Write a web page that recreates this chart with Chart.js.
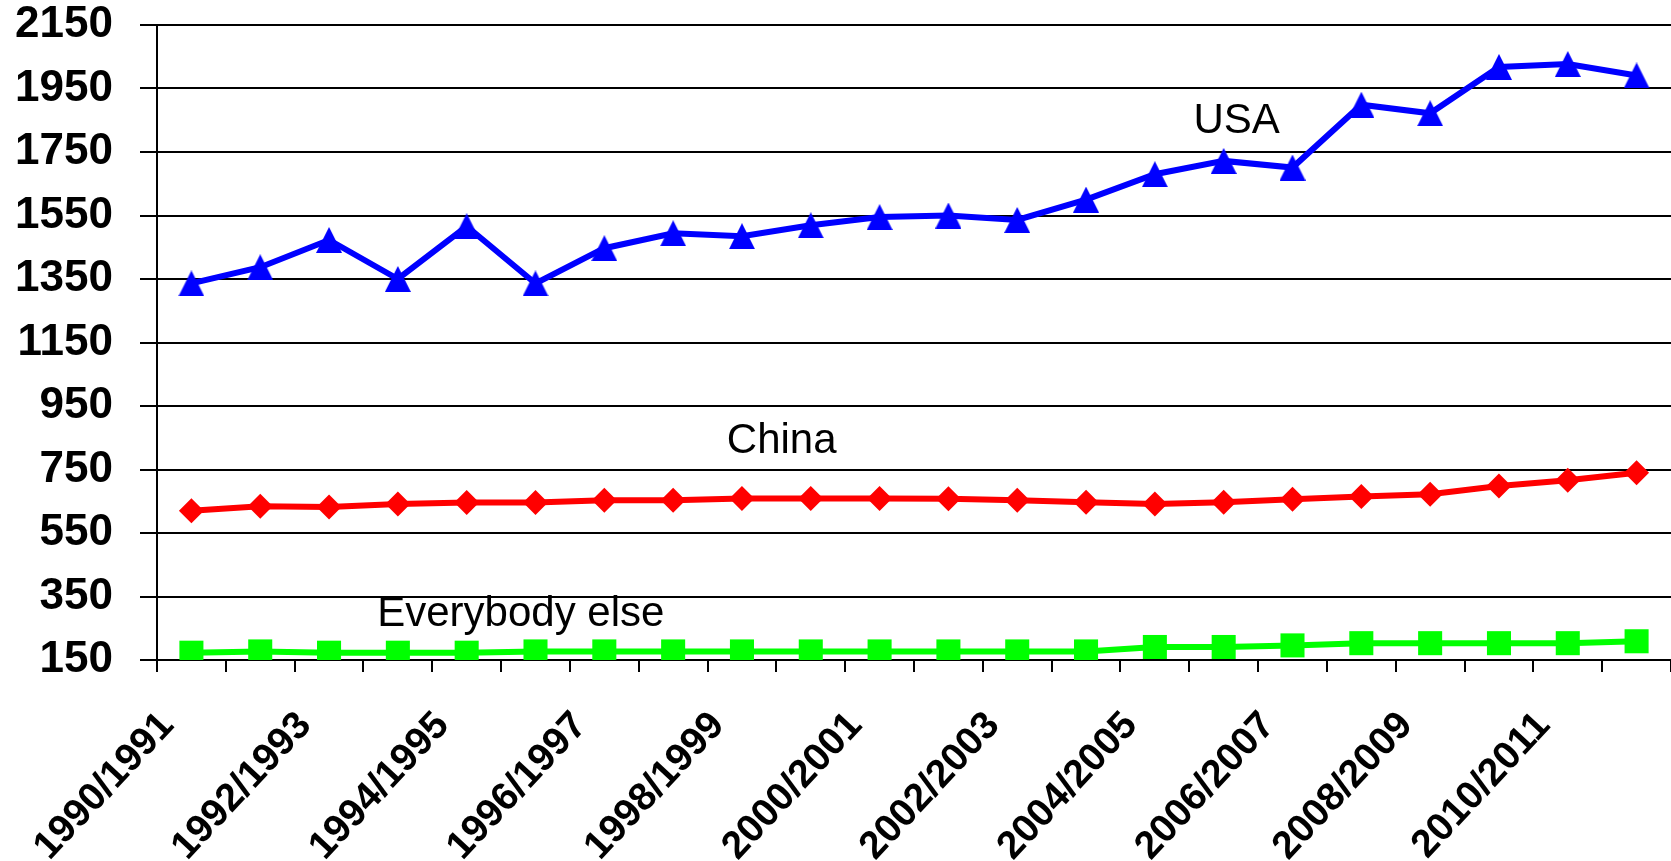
<!DOCTYPE html>
<html>
  <head>
    <title>USA, China, Everybody else</title>
    <style>
      body { margin: 0; background: #fff; }
      #wrap { width: 1671px; height: 861px; position: relative; }
    </style>
  </head>
  <body>
    <script src="https://cdn.jsdelivr.net/npm/chart.js"></script>

    <div id="wrap"><canvas id="lineChart"></canvas></div>

    <script>
      // Data
      const years = ['1990/1991', '1991/1992', '1992/1993', '1993/1994', '1994/1995', '1995/1996',
        '1996/1997', '1997/1998', '1998/1999', '1999/2000', '2000/2001', '2001/2002', '2002/2003',
        '2003/2004', '2004/2005', '2005/2006', '2006/2007', '2007/2008', '2008/2009', '2009/2010',
        '2010/2011', '2011/2012'];
      const usa = [1336, 1387, 1473, 1350, 1516, 1336, 1447, 1494, 1485, 1519, 1545, 1550,
        1536, 1600, 1680, 1722, 1701, 1899, 1872, 2018, 2027, 1991];
      const china = [620, 634, 632, 641, 646, 646, 653, 653, 659, 659, 659, 658,
        653, 647, 641, 647, 656, 665, 672, 698, 716, 740];
      const others = [173, 177, 173, 173, 173, 177, 177, 177, 177, 177, 177, 177,
        177, 177, 191, 191, 196, 203, 203, 203, 203, 209];
      const yTicks = [150, 350, 550, 750, 950, 1150, 1350, 1550, 1750, 1950, 2150];

      // series names written inside the plot (category index, value)
      const seriesNames = ['USA', 'China', 'Everybody else'];
      const nameX = [14.56, 7.78, 2.70];
      const nameY = [1810, 801, 257];

      const FONT = "'Liberation Sans', Arial, sans-serif";

      // Excel-like triangle marker (box centred on the point)
      function triangle(color) {
        const c = document.createElement('canvas');
        c.width = 26; c.height = 26;
        const g = c.getContext('2d');
        g.fillStyle = color;
        g.beginPath();
        g.moveTo(13, 0);
        g.lineTo(26, 26);
        g.lineTo(0, 26);
        g.closePath();
        g.fill();
        return c;
      }

      // draws the series names as plain text
      const namesPlugin = {
        id: 'names',
        afterDatasetsDraw(chart) {
          const ctx = chart.ctx;
          const xs = chart.scales.x, ys = chart.scales.y;
          ctx.save();
          ctx.fillStyle = '#000';
          ctx.font = '42px ' + FONT;
          ctx.textAlign = 'left';
          ctx.textBaseline = 'alphabetic';
          seriesNames.forEach((name, i) => {
            ctx.fillText(name, xs.getPixelForValue(nameX[i]), ys.getPixelForValue(nameY[i]));
          });
          ctx.restore();
        }
      };

      const ctx = document.getElementById('lineChart').getContext('2d');
      const chart = new Chart(ctx, {
        type: 'line',
        data: {
          labels: years,
          datasets: [
            {
              label: 'USA', data: usa,
              borderColor: '#0000ff', backgroundColor: '#0000ff', borderWidth: 6,
              pointStyle: triangle('#0000ff'), pointRadius: 13
            },
            {
              label: 'China', data: china,
              borderColor: '#ff0000', backgroundColor: '#ff0000', borderWidth: 6,
              pointStyle: 'rectRot', pointRadius: 12.5, pointBorderWidth: 0
            },
            {
              label: 'Everybody else', data: others,
              borderColor: '#00ff00', backgroundColor: '#00ff00', borderWidth: 6,
              pointStyle: 'rect', pointRadius: 17, pointBorderWidth: 0
            }
          ]
        },
        options: {
          responsive: true,
          maintainAspectRatio: false,
          animation: false,
          events: [],
          layout: { padding: 0, autoPadding: false },
          elements: { line: { tension: 0 } },
          plugins: { legend: { display: false }, tooltip: { enabled: false } },
          scales: {
            x: {
              offset: true,
              grid: { offset: true, drawOnChartArea: false, drawTicks: true, tickLength: 12, color: '#000', lineWidth: 2 },
              border: { color: '#000', width: 2 },
              ticks: {
                autoSkip: false, minRotation: 47, maxRotation: 47,
                padding: 31, labelOffset: -24, color: '#000',
                font: { family: FONT, size: 39, weight: 'bold' },
                callback: (v, i) => (i % 2 === 0 ? years[i] : '')
              },
              afterFit(scale) {
                scale.height = 201;
                scale.paddingLeft = 0;
                scale.paddingRight = 0;
              }
            },
            y: {
              min: yTicks[0],
              max: yTicks[yTicks.length - 1],
              afterBuildTicks(scale) {
                scale.ticks = yTicks.map(v => ({ value: v }));
              },
              grid: { color: '#000', lineWidth: 2, tickLength: 17 },
              border: { color: '#000', width: 2 },
              ticks: {
                padding: 27, color: '#000',
                font: { family: FONT, size: 44, weight: 'bold' },
                callback: v => String(v)
              },
              afterFit(scale) {
                scale.width = 157;
                scale.paddingTop = 25;
                scale.paddingBottom = 0;
              }
            }
          }
        },
        plugins: [namesPlugin]
      });
    </script>
  </body>
</html>
